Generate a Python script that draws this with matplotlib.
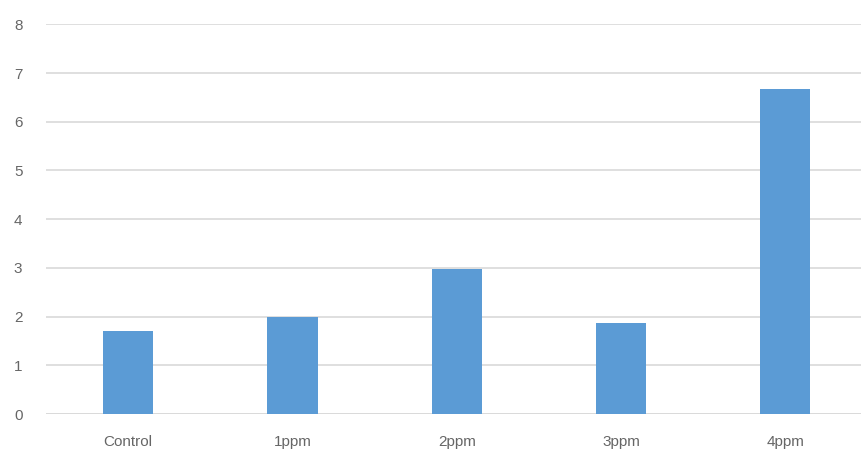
import matplotlib
matplotlib.use("Agg")
import matplotlib.pyplot as plt

categories = ["Control", "1ppm", "2ppm", "3ppm", "4ppm"]
values = [1.70, 2.0, 2.98, 1.87, 6.67]
yticks = [0, 1, 2, 3, 4, 5, 6, 7, 8]

bar_color = "#5B9BD5"
grid_color = "#D9D9D9"
text_color = "#666666"

plt.rcParams["font.family"] = ["Liberation Sans", "DejaVu Sans"]

fig = plt.figure(figsize=(8.61, 4.55), dpi=100)
ax = fig.add_axes([46 / 861, 41 / 455, 815 / 861, 389.7 / 455])

x = range(len(categories))
ax.bar(x, values, width=0.305, color=bar_color, zorder=3)

ax.set_xlim(-0.5, 4.46)
ax.set_ylim(0, 8)
ax.set_yticks(yticks)
ax.set_xticks(list(x))
ax.set_xticklabels(categories)

ax.grid(axis="y", color=grid_color, linewidth=1.2, zorder=0)
for s in ["top", "right", "left", "bottom"]:
    ax.spines[s].set_visible(False)
ax.axhline(0, color=grid_color, linewidth=1.2, zorder=1)

ax.tick_params(axis="both", length=0, labelsize=11, labelcolor=text_color)
ax.tick_params(axis="y", pad=17)
ax.tick_params(axis="x", pad=15)

fig.savefig("out.png", dpi=100)
